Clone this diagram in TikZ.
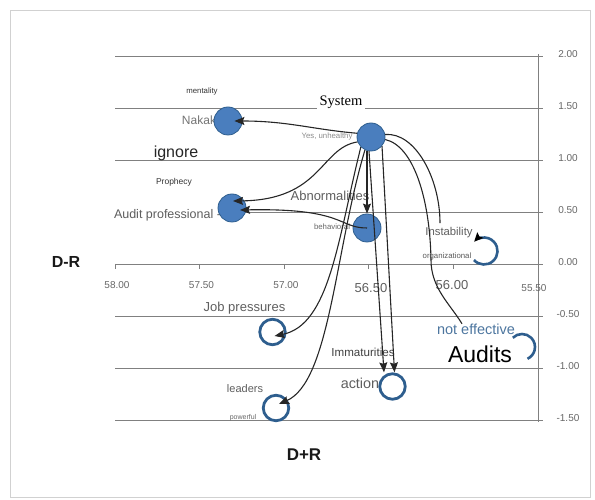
\documentclass[tikz,border=0pt]{standalone}
\usepackage{fontspec}
\setmainfont{Liberation Sans}
\newfontfamily\sysfont{Liberation Serif}
\usetikzlibrary{arrows.meta}
\definecolor{ballblue}{HTML}{4A7EBE}
\definecolor{rimblue}{HTML}{2E5E8E}
\definecolor{gridline}{HTML}{808080}
\definecolor{wordgray}{HTML}{5E5E5E}
\newcommand{\fsz}[1]{\fontsize{#1}{#1}\selectfont}

\begin{document}
\begin{tikzpicture}[x=1pt,y=1pt,
  ball/.style={circle,fill=ballblue,draw=rimblue,line width=0.8pt,minimum size=28pt,inner sep=0pt},
  ring/.style={circle,fill=white,draw=rimblue,line width=2.8pt,minimum size=25.5pt,inner sep=0pt},
  word/.style={text=wordgray,inner sep=0.5pt,anchor=base},
  note/.style={text=black!70,inner sep=0.5pt,anchor=base,font=\fsz{7.8}},
  axnum/.style={text=black!60,inner sep=0pt,anchor=base,font=\fsz{10}},
  link/.style={-{Stealth[length=10pt,width=8pt,inset=1.5pt]},line width=1.1pt,black!85},
  curve/.style={line width=1.1pt,black!85},
  arcline/.style={rimblue,line width=2.6pt}]
\useasboundingbox (0,0) rectangle (595,500);
\draw[black!18] (10,3) rectangle (590,490);

\foreach \v/\lab in {2/2.00,1.5/1.50,1/1.00,0.5/0.50,0/0.00,-0.5/-0.50,-1/-1.00,-1.5/-1.50}{
  \draw[gridline,line width=0.7pt] (115,{236+104*\v}) -- (543,{236+104*\v});
  \node[axnum] at (568,{234+104*\v}) {\lab};
}
\draw[gridline,line width=0.7pt] (538,78) -- (538,446);
\foreach \x/\lab in {115/58.00,199.5/57.50,284/57.00}{
  \draw[gridline,line width=0.7pt] (\x,236) -- (\x,231);
  \node[axnum] at (\x+2,211) {\lab};
}
\foreach \x in {368.5,453}
  \draw[gridline,line width=0.7pt] (\x,236) -- (\x,231);
\node[word,font=\fsz{13}] at (371,207) {56.50};
\node[word,font=\fsz{13}] at (452,210) {56.00};
\node[axnum] at (534,208) {55.50};

\node[word,font=\fsz{12},text=black!55] (tNakak) at (199,375) {Nakak};
\node[note,text=black!80] (tMent) at (202,406) {mentality};
\node[word,font=\fsz{16},text=black!85] (tIgnore) at (176,342) {ignore};
\node[note,font=\fsz{8.5},text=black!80] (tProph) at (174,315) {Prophecy};
\node[word,font=\fsz{12.5},fill=white,inner sep=1.5pt] (tAudit) at (167.5,281) {Audit professional -};
\node[word,font=\sysfont\fsz{14.5},text=black,fill=white,inner xsep=3pt] (tSystem) at (341,394) {System};
\node[note,text=black!45] (tYes) at (327,361) {Yes, unhealthy};
\node[word,font=\fsz{13}] (tAbn) at (330,299) {Abnormalities};
\node[note,text=black!60] (tBeh) at (332,270) {behavioral};
\node[word,font=\fsz{11.3}] (tInst) at (449,264) {Instability};
\node[note,text=black!65] (tOrg) at (447,241) {organizational};
\node[word,font=\fsz{13}] (tJob) at (244.5,188) {Job pressures};
\node[word,font=\fsz{11.6},text=black!75] (tImm) at (363,143) {Immaturities};
\node[word,font=\fsz{14.4}] (tAct) at (360,111) {action};
\node[word,font=\fsz{11}] (tLead) at (245,107) {leaders};
\node[note,font=\fsz{7},text=black!60] (tPow) at (243,80) {powerful};
\node[word,font=\fsz{14.5},text=rimblue!85] (tNotEff) at (476,165) {not effective};
\node[word,font=\fsz{23},text=black] (tAudits) at (480,137) {Audits};
\node[word,font=\bfseries\fsz{16},text=black!90] (tDR) at (66,232) {D-R};
\node[word,font=\bfseries\fsz{17},text=black!90] (tDpR) at (304,39) {D+R};

\node[ball] (Nakak) at (228,379) {};
\node[ball] (Audit) at (232,292) {};
\node[ball] (System) at (371,363) {};
\node[ball] (Abnorm) at (367,272) {};
\node[ring] (Job) at (272.5,168) {};
\node[ring] (Leaders) at (276,92) {};
\node[ring] (Action) at (392.5,113.5) {};
\coordinate (Instab) at (484,249);
\coordinate (Audits) at (522,153);

\draw[link,shorten >=-8pt] (System.165) to[out=175,in=0] (Nakak);
\draw[link] (System.200) .. controls (320,352) and (322,300) .. ([shift={(1,7)}]Audit.center);
\draw[link] (Abnorm.center) .. controls (338,272) and (345,292) .. ([shift={(8,-2)}]Audit.center);
\draw[link] ([xshift=-4pt]System.south) -- (Abnorm.north);
\draw[link] (System.225) .. controls (338,262) and (330,175) .. ([shift={(2,-4)}]Job.center);
\draw[link] (System.245) .. controls (335,250) and (330,118) .. ([shift={(3,4)}]Leaders.center);
\draw[link] (System.262) -- ([xshift=-8.5pt]Action.north);
\draw[link] (System.320) -- ([xshift=2pt]Action.north);
\draw[curve] (System.10) .. controls (415,368) and (440,322) .. ([shift={(-9,4)}]tInst.north);
\draw[curve] (System.350) .. controls (414,354) and (430,300) .. (431,240)
  .. controls (431,212) and (450,196) .. ([xshift=-14pt]tNotEff.north);

\draw[arcline,-{Stealth[length=9pt,width=8pt,inset=1.5pt,color=black]}] ([shift={(222:13.5pt)}]Instab) arc[start angle=222,end angle=497,radius=13.5pt];
\draw[arcline] ([shift={(135:13pt)}]Audits) arc[start angle=135,end angle=-65,radius=13pt];
\end{tikzpicture}
\end{document}
